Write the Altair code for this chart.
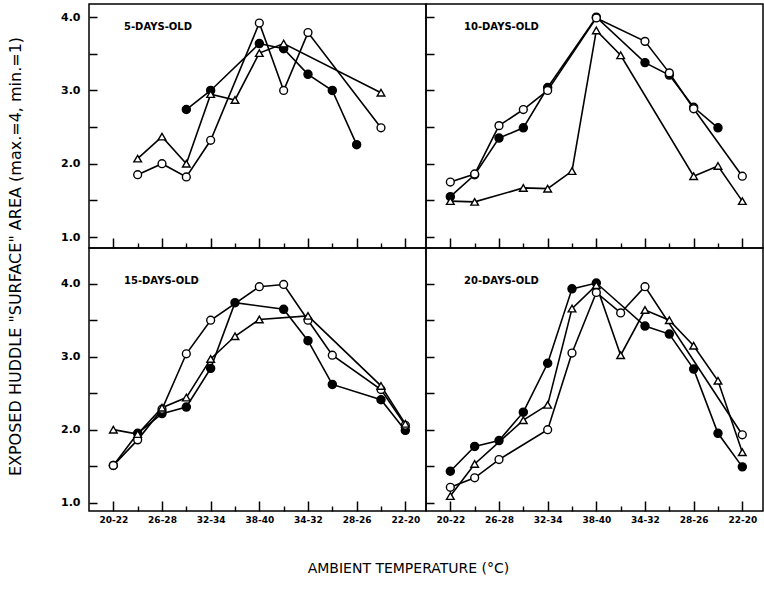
import json
import altair as alt
import pandas as pd

# ---------------- data ----------------
positions = list(range(13))
tick_labels = ["20-22", "", "26-28", "", "32-34", "", "38-40", "", "34-32", "", "28-26", "", "22-20"]
panel_titles = ["5-DAYS-OLD", "10-DAYS-OLD", "15-DAYS-OLD", "20-DAYS-OLD"]
series_names = ["filled circle", "open circle", "open triangle"]

# 5 days old
d5_filled_x = [3, 4, 6, 7, 8, 9, 10]
d5_filled_y = [2.74, 3.00, 3.64, 3.57, 3.22, 3.00, 2.26]
d5_open_x = [1, 2, 3, 4, 6, 7, 8, 11]
d5_open_y = [1.85, 2.00, 1.82, 2.32, 3.92, 3.00, 3.79, 2.49]
d5_tri_x = [1, 2, 3, 4, 5, 6, 7, 11]
d5_tri_y = [2.07, 2.37, 2.00, 2.95, 2.87, 3.51, 3.64, 2.97]

# 10 days old
d10_filled_x = [0, 1, 2, 3, 4, 6, 8, 9, 10, 11]
d10_filled_y = [1.55, 1.85, 2.35, 2.49, 3.04, 4.00, 3.38, 3.21, 2.77, 2.49]
d10_open_x = [0, 1, 2, 3, 4, 6, 8, 9, 10, 12]
d10_open_y = [1.75, 1.86, 2.52, 2.74, 3.00, 3.99, 3.67, 3.24, 2.75, 1.83]
d10_tri_x = [0, 1, 3, 4, 5, 6, 7, 10, 11, 12]
d10_tri_y = [1.49, 1.48, 1.67, 1.66, 1.90, 3.82, 3.48, 1.83, 1.97, 1.49]

# 15 days old
d15_filled_x = [0, 1, 2, 3, 4, 5, 7, 8, 9, 11, 12]
d15_filled_y = [1.51, 1.95, 2.22, 2.31, 2.84, 3.74, 3.65, 3.22, 2.62, 2.41, 1.99]
d15_open_x = [0, 1, 2, 3, 4, 6, 7, 8, 9, 11, 12]
d15_open_y = [1.51, 1.86, 2.28, 3.04, 3.50, 3.96, 3.99, 3.50, 3.02, 2.55, 2.06]
d15_tri_x = [0, 1, 2, 3, 4, 5, 6, 8, 11, 12]
d15_tri_y = [2.00, 1.94, 2.30, 2.44, 2.97, 3.28, 3.51, 3.56, 2.60, 2.08]

# 20 days old
d20_filled_x = [0, 1, 2, 3, 4, 5, 6, 8, 9, 10, 11, 12]
d20_filled_y = [1.43, 1.77, 1.85, 2.24, 2.91, 3.93, 4.01, 3.42, 3.31, 2.83, 1.95, 1.49]
d20_open_x = [0, 1, 2, 4, 5, 6, 7, 8, 12]
d20_open_y = [1.21, 1.34, 1.59, 2.00, 3.05, 3.88, 3.60, 3.96, 1.93]
d20_tri_x = [0, 1, 3, 4, 5, 6, 7, 8, 9, 10, 11, 12]
d20_tri_y = [1.09, 1.53, 2.13, 2.34, 3.66, 3.98, 3.02, 3.64, 3.50, 3.15, 2.67, 1.69]

y_title = 'EXPOSED HUDDLE "SURFACE" AREA (max.=4, min.=1)'
x_title = "AMBIENT TEMPERATURE (°C)"

panels_data = [
    [(d5_filled_x, d5_filled_y), (d5_open_x, d5_open_y), (d5_tri_x, d5_tri_y)],
    [(d10_filled_x, d10_filled_y), (d10_open_x, d10_open_y), (d10_tri_x, d10_tri_y)],
    [(d15_filled_x, d15_filled_y), (d15_open_x, d15_open_y), (d15_tri_x, d15_tri_y)],
    [(d20_filled_x, d20_filled_y), (d20_open_x, d20_open_y), (d20_tri_x, d20_tri_y)],
]

FONT = "DejaVu Sans"
PW = 337
HEIGHTS = [244, 263]
YDOMAINS = [[0.85, 4.18], [0.885, 4.49]]
XDOMAIN = [-1.0, 12.85]
label_js = json.dumps(tick_labels)


def make_panel(k):
    row, col = divmod(k, 2)
    rows = []
    for s, (xs, ys) in zip(series_names, panels_data[k]):
        for xi, yi in zip(xs, ys):
            rows.append({"series": s, "i": xi, "v": yi})
    df = pd.DataFrame(rows)
    base = alt.Chart(df)

    xscale = alt.Scale(domain=XDOMAIN, nice=False, zero=False)
    yscale = alt.Scale(domain=YDOMAINS[row], nice=False, zero=False)

    major_kwargs = dict(
        orient="bottom", values=positions[::2], tickSize=10, offset=-10, domain=False,
        grid=False, tickColor="black", tickWidth=1.5,
        labels=(row == 1), labelExpr=f"{label_js}[datum.value]",
        labelFont=FONT, labelFontSize=9, labelFontWeight="bold", labelColor="black",
        labelPadding=4,
    )
    if row == 1 and col == 0:
        major_kwargs.update(
            title=x_title, titleX=319, titleY=67, titleAlign="center", titleBaseline="middle",
            titleFont=FONT, titleFontSize=14, titleFontWeight="normal", titleColor="black",
        )
    x_major = alt.X("i:Q", scale=xscale, axis=alt.Axis(**major_kwargs),
                    title=None if not (row == 1 and col == 0) else x_title)

    x_minor = alt.X("i:Q", scale=xscale, title=None, axis=alt.Axis(
        orient="bottom", values=positions[1::2], tickSize=5, offset=-5, domain=False,
        grid=False, labels=False, tickColor="black", tickWidth=1.4))

    y_kwargs = dict(
        values=[1.0, 1.5, 2.0, 2.5, 3.0, 3.5, 4.0], tickSize=8, offset=-8, domain=False,
        grid=False, tickColor="black", tickWidth=1.5,
        labels=(col == 0),
        labelExpr="datum.value % 1 == 0 ? format(datum.value, '.1f') : ''",
        labelFont=FONT, labelFontSize=11, labelFontWeight="bold", labelColor="black",
        labelPadding=9,
    )
    if row == 0 and col == 0:
        y_kwargs.update(
            title=y_title, titleX=-82, titleY=252, titleAngle=270, titleAlign="center",
            titleBaseline="middle", titleFont=FONT, titleFontSize=16,
            titleFontWeight="normal", titleColor="black",
        )
    y_enc = alt.Y("v:Q", scale=yscale, axis=alt.Axis(**y_kwargs),
                  title=y_title if (row == 0 and col == 0) else None)

    lines = base.mark_line(color="black", strokeWidth=1.6).encode(
        x=x_major, y=y_enc, detail="series:N", order="i:Q")

    points = base.mark_point(filled=True, stroke="black", strokeWidth=1.4, opacity=1).encode(
        x=alt.X("i:Q", scale=xscale, axis=None),
        y=y_enc,
        shape=alt.Shape("series:N", scale=alt.Scale(domain=series_names,
                        range=["circle", "circle", "triangle-up"]), legend=None),
        fill=alt.Fill("series:N", scale=alt.Scale(domain=series_names,
                      range=["black", "white", "white"]), legend=None),
        size=alt.Size("series:N", scale=alt.Scale(domain=series_names,
                      range=[65, 58, 120]), legend=None),
    )

    minor = base.mark_point(opacity=0).encode(x=x_minor, y=y_enc)

    label = alt.Chart(pd.DataFrame({"name": [panel_titles[k]]})).mark_text(
        align="left", baseline="middle", font=FONT, fontSize=10, fontWeight="bold",
        color="black").encode(
        text="name:N",
        x=alt.value(35 if col == 0 else 38),
        y=alt.value(23 if row == 0 else 33),
    )

    return alt.layer(lines, points, minor, label).resolve_axis(x="independent").properties(
        width=PW, height=HEIGHTS[row])


chart = alt.concat(
    *[make_panel(k) for k in range(4)], columns=2, spacing=0, bounds="flush"
).configure_view(
    stroke="black", strokeWidth=1.5
).properties(
    padding={"left": 6, "top": 3, "right": 0, "bottom": 5},
    background="white",
)

chart.save("out.html", embed_options={"renderer": "svg", "actions": False})
